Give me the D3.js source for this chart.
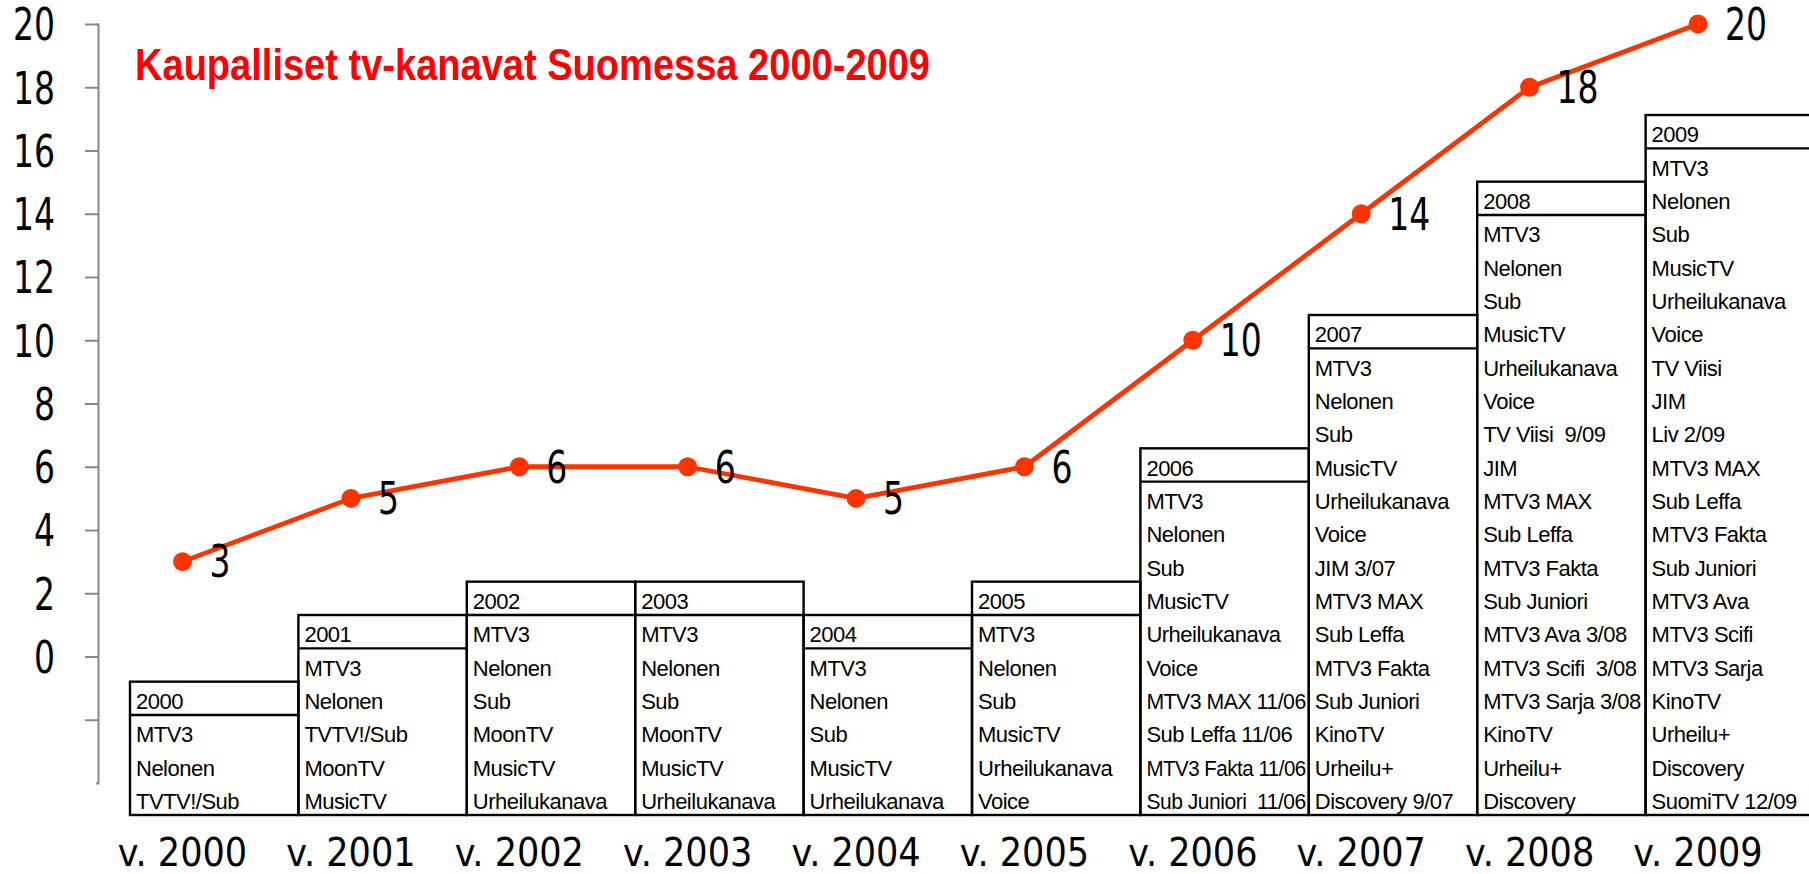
<!DOCTYPE html>
<html><head><meta charset="utf-8">
<script src="https://cdn.jsdelivr.net/npm/d3@7"></script>
<style>body{margin:0;background:#fff;} svg{display:block}</style>
</head><body>
<svg id="chart" width="1809" height="874"></svg>
<script>
const title = "Kaupalliset tv-kanavat Suomessa 2000-2009";
const years = [2000, 2001, 2002, 2003, 2004, 2005, 2006, 2007, 2008, 2009];
const counts = [3, 5, 6, 6, 5, 6, 10, 14, 18, 20];
const xLabels = ["v. 2000", "v. 2001", "v. 2002", "v. 2003", "v. 2004", "v. 2005", "v. 2006", "v. 2007", "v. 2008", "v. 2009"];
const yTicks = [-2, 0, 2, 4, 6, 8, 10, 12, 14, 16, 18, 20];
const yTickLabels = ["", "0", "2", "4", "6", "8", "10", "12", "14", "16", "18", "20"];
const boxHeaders = ["2000", "2001", "2002", "2003", "2004", "2005", "2006", "2007", "2008", "2009"];

const channels2000 = ["MTV3", "Nelonen", "TVTV!/Sub"];
const channels2001 = ["MTV3", "Nelonen", "TVTV!/Sub", "MoonTV", "MusicTV"];
const channels2002 = ["MTV3", "Nelonen", "Sub", "MoonTV", "MusicTV", "Urheilukanava"];
const channels2003 = ["MTV3", "Nelonen", "Sub", "MoonTV", "MusicTV", "Urheilukanava"];
const channels2004 = ["MTV3", "Nelonen", "Sub", "MusicTV", "Urheilukanava"];
const channels2005 = ["MTV3", "Nelonen", "Sub", "MusicTV", "Urheilukanava", "Voice"];
const channels2006 = ["MTV3", "Nelonen", "Sub", "MusicTV", "Urheilukanava", "Voice", "MTV3 MAX 11/06", "Sub Leffa 11/06", "MTV3 Fakta 11/06", "Sub Juniori  11/06"];
const channels2007 = ["MTV3", "Nelonen", "Sub", "MusicTV", "Urheilukanava", "Voice", "JIM 3/07", "MTV3 MAX", "Sub Leffa", "MTV3 Fakta", "Sub Juniori", "KinoTV", "Urheilu+", "Discovery 9/07"];
const channels2008 = ["MTV3", "Nelonen", "Sub", "MusicTV", "Urheilukanava", "Voice", "TV Viisi  9/09", "JIM", "MTV3 MAX", "Sub Leffa", "MTV3 Fakta", "Sub Juniori", "MTV3 Ava 3/08", "MTV3 Scifi  3/08", "MTV3 Sarja 3/08", "KinoTV", "Urheilu+", "Discovery"];
const channels2009 = ["MTV3", "Nelonen", "Sub", "MusicTV", "Urheilukanava", "Voice", "TV Viisi", "JIM", "Liv 2/09", "MTV3 MAX", "Sub Leffa", "MTV3 Fakta", "Sub Juniori", "MTV3 Ava", "MTV3 Scifi", "MTV3 Sarja", "KinoTV", "Urheilu+", "Discovery", "SuomiTV 12/09"];
const channelLists = [channels2000, channels2001, channels2002, channels2003, channels2004, channels2005, channels2006, channels2007, channels2008, channels2009];

const svg = d3.select("#chart");
const numFont = "'DejaVu Sans Condensed', 'DejaVu Sans', sans-serif";
const boxFont = "'Liberation Sans', Arial, sans-serif";
const lineColor = "#ff3300";

// scales
const x = d3.scaleLinear().domain([2000, 2009]).range([182.5, 1698]);
const xBox = d3.scaleLinear().domain([2000, 2010]).range([130, 130 + 10 * 168.4]);
const y = d3.scaleLinear().domain([-4, 20]).range([783, 24]);
const rowY = d3.scaleLinear().domain([0, 21]).range([815, 115]);

// boxes
const boxes = svg.append("g").selectAll("g").data(years).join("g");
boxes.each(function(yr, i) {
  const g = d3.select(this);
  const list = channelLists[i];
  const n = list.length;
  const x0 = xBox(yr), x1 = xBox(yr + 1);
  const top = rowY(n + 1), bot = rowY(0);
  g.append("rect").attr("x", x0).attr("y", top).attr("width", x1 - x0).attr("height", bot - top)
    .attr("fill", "none").attr("stroke", "#000").attr("stroke-width", 2.4);
  g.append("line").attr("x1", x0).attr("x2", x1).attr("y1", rowY(n)).attr("y2", rowY(n))
    .attr("stroke", "#000").attr("stroke-width", 2.4);
  const rows = [boxHeaders[i]].concat(list);
  const maxW = (x1 - x0) - 9;
  g.selectAll("text").data(rows).join("text")
    .attr("x", x0 + 6)
    .attr("y", (d, k) => rowY(n - k) - 6)
    .attr("font-family", boxFont)
    .attr("font-size", 22)
    .attr("letter-spacing", -0.5)
    .attr("fill", "#000")
    .style("white-space", "pre")
    .text(d => d)
    .each(function() {
      const w = this.getComputedTextLength();
      if (w > maxW) d3.select(this).attr("textLength", maxW).attr("lengthAdjust", "spacingAndGlyphs");
    });
});

// horizontal compression factor for numeric labels (reference glyphs are condensed)
const probe = svg.append("text").attr("font-family", numFont).attr("font-size", 44).text("20");
const kNum = 42 / probe.node().getComputedTextLength();
probe.remove();

// y axis
const yAxis = d3.axisLeft(y).tickValues(yTicks).tickSize(13).tickSizeOuter(2).tickPadding(30)
  .tickFormat((d, i) => yTickLabels[i]);
const ga = svg.append("g").attr("transform", "translate(98,0)").call(yAxis);
ga.select(".domain").attr("stroke", "#888").attr("stroke-width", 2);
ga.selectAll(".tick line").attr("stroke", "#888").attr("stroke-width", 2);
ga.selectAll(".tick text").attr("font-family", numFont).attr("font-size", 44).attr("fill", "#000")
  .attr("dy", "0.36em").attr("x", -43 / kNum).attr("transform", `scale(${kNum},1)`);

// x labels
svg.append("g").selectAll("text").data(years).join("text")
  .attr("x", d => x(d)).attr("y", 866)
  .attr("text-anchor", "middle")
  .attr("font-family", numFont).attr("font-size", 39).attr("fill", "#000")
  .text((d, i) => xLabels[i]);

// line
const line = d3.line().x((d, i) => x(years[i])).y(d => y(d));
svg.append("path").datum(counts).attr("d", line).attr("fill", "none")
  .attr("stroke", lineColor).attr("stroke-width", 4.8).attr("stroke-linejoin", "round");
svg.append("g").selectAll("circle").data(counts).join("circle")
  .attr("cx", (d, i) => x(years[i])).attr("cy", d => y(d)).attr("r", 9.5).attr("fill", lineColor);
svg.append("g").selectAll("text").data(counts).join("text")
  .attr("transform", (d, i) => `translate(${x(years[i]) + 27},${y(d)}) scale(${kNum},1)`)
  .attr("dy", "0.36em")
  .attr("font-family", numFont).attr("font-size", 44).attr("fill", "#000")
  .text(d => d);

// title
svg.append("text").attr("x", 135).attr("y", 80)
  .attr("font-family", "'Liberation Sans Narrow', 'Liberation Sans', Arial, sans-serif").attr("font-weight", "bold").attr("font-size", 45)
  .attr("fill", "#ff0000").attr("textLength", 795).attr("lengthAdjust", "spacingAndGlyphs")
  .text(title);
</script>
</body></html>
